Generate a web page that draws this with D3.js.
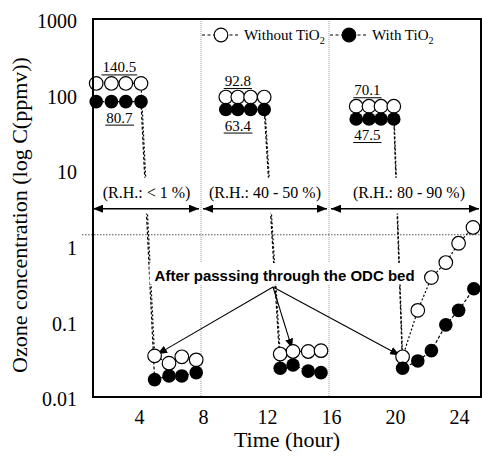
<!DOCTYPE html>
<html>
<head>
<meta charset="utf-8">
<script src="https://cdn.jsdelivr.net/npm/d3@7"></script>
<style>
  body { margin: 0; background: #fff; }
  svg { display: block; }
</style>
</head>
<body>
<svg id="chart"></svg>
<script>
const width = 482
const height = 457

// axis ticks
const xTicks = [4, 8, 12, 16, 20, 24]
const yTicks = [0.01, 0.1, 1, 10, 100, 1000]

// humidity periods (hour boundaries) and their labels
const periodBounds = [1.25, 8, 16, 25.5]
const rhLabels = ["(R.H.: < 1 %)", "(R.H.: 40 - 50 %)", "(R.H.: 80 - 90 %)"]
const rhLabelTime = [4.6, 12, 21]
const rhLevel = 3.1
const refLevel = 1.4

// inlet concentrations written on the chart
const inletWithout = [140.5, 92.8, 70.1]
const inletWith = [80.7, 63.4, 47.5]
const inletLabelTime = [2.9, 10.3, 18.4]

// Without TiO2 series, one array per period
const withoutTime = [
  [1.45, 2.4, 3.3, 4.25, 5.1, 6.0, 6.8, 7.7],
  [9.55, 10.3, 11.1, 11.95, 12.95, 13.75, 14.7, 15.5],
  [17.7, 18.5, 19.25, 20.05, 20.6, 21.55, 22.4, 23.3, 24.1, 25.0]
]
const withoutConc = [
  [140.5, 140.5, 140.5, 140.5, 0.035, 0.028, 0.034, 0.031],
  [92.8, 92.8, 92.8, 92.8, 0.037, 0.040, 0.040, 0.041],
  [70.1, 70.1, 70.1, 70.1, 0.034, 0.14, 0.38, 0.6, 1.08, 1.75]
]

// With TiO2 series
const withTime = [
  [1.45, 2.4, 3.3, 4.25, 5.1, 6.0, 6.8, 7.7],
  [9.55, 10.3, 11.1, 11.95, 12.95, 13.75, 14.7, 15.5],
  [17.7, 18.5, 19.25, 20.05, 20.6, 21.55, 22.4, 23.3, 24.1, 25.05]
]
const withConc = [
  [80.7, 80.7, 80.7, 80.7, 0.017, 0.019, 0.019, 0.021],
  [63.4, 63.4, 63.4, 63.4, 0.024, 0.0265, 0.022, 0.021],
  [47.5, 47.5, 47.5, 47.5, 0.024, 0.030, 0.041, 0.09, 0.14, 0.27]
]

// annotation: text anchor and the points the arrows point at [period, index]
const noteText = "After passsing through the ODC bed"
const noteStartTime = 5.1
const noteApex = [12.5, 0.285]
const noteTargets = [[0, 4], [1, 5], [2, 4]]

const serif = "'Times New Roman', 'Liberation Serif', serif"
const sans = "Arial, 'Liberation Sans', sans-serif"
const r = 6.8

const x = d3.scaleLinear().domain([periodBounds[0], periodBounds[3]]).range([93, 481])
const y = d3.scaleLog().domain([0.01, 1000]).range([397, 19])

const svg = d3.select("#chart")
              .attr("width", width)
              .attr("height", height)

const defs = svg.append("defs")
defs.append("marker")
    .attr("id", "headBig")
    .attr("viewBox", "0 0 10 8")
    .attr("refX", 10).attr("refY", 4)
    .attr("markerUnits", "userSpaceOnUse")
    .attr("markerWidth", 10).attr("markerHeight", 8)
    .attr("orient", "auto-start-reverse")
  .append("path")
    .attr("d", "M0,0L10,4L0,8Z")
    .attr("fill", "#000")
defs.append("marker")
    .attr("id", "headSmall")
    .attr("viewBox", "0 0 10 8")
    .attr("refX", 10).attr("refY", 4)
    .attr("markerUnits", "userSpaceOnUse")
    .attr("markerWidth", 10).attr("markerHeight", 8)
    .attr("orient", "auto")
  .append("path")
    .attr("d", "M0,0L10,4L0,8Z")
    .attr("fill", "#000")

// vertical period separators
svg.selectAll(".grid")
   .data(periodBounds.slice(1, 3))
   .enter().append("line")
   .attr("class", "grid")
   .attr("x1", d => x(d)).attr("x2", d => x(d))
   .attr("y1", y.range()[1]).attr("y2", y.range()[0])
   .attr("stroke", "#999")
   .attr("stroke-width", 1)
   .attr("stroke-dasharray", "1,1")

// reference level
svg.append("line")
   .attr("x1", 82).attr("x2", x.range()[1])
   .attr("y1", y(refLevel)).attr("y2", y(refLevel))
   .attr("stroke", "#555")
   .attr("stroke-width", 1)
   .attr("stroke-dasharray", "1.5,1.5")

// series lines
const line = d3.line().x(d => x(d[0])).y(d => y(d[1]))
const withoutPts = withoutTime.map((ts, g) => ts.map((t, i) => [t, withoutConc[g][i]]))
const withPts = withTime.map((ts, g) => ts.map((t, i) => [t, withConc[g][i]]))

svg.selectAll(".lineWithout")
   .data(withoutPts)
   .enter().append("path")
   .attr("class", "lineWithout")
   .attr("d", line)
   .attr("fill", "none")
   .attr("stroke", "#000")
   .attr("stroke-width", 1.2)
   .attr("stroke-dasharray", "2,2")

svg.selectAll(".lineWith")
   .data(withPts)
   .enter().append("path")
   .attr("class", "lineWith")
   .attr("d", line)
   .attr("fill", "none")
   .attr("stroke", "#000")
   .attr("stroke-width", 1.2)
   .attr("stroke-dasharray", "3,2")

// R.H. labels with white boxes and double arrows
const rhY = y(rhLevel)
rhLabels.forEach((label, i) => {
  const box = svg.append("rect")
  const t = svg.append("text")
               .attr("x", x(rhLabelTime[i]))
               .attr("y", rhY - 11)
               .attr("text-anchor", "middle")
               .attr("font-family", serif)
               .attr("font-size", 16)
               .text(label)
  const bb = t.node().getBBox()
  box.attr("x", bb.x - 3).attr("width", bb.width + 6)
     .attr("y", rhY - 31).attr("height", 36)
     .attr("fill", "#fff")
  svg.append("line")
     .attr("x1", x(periodBounds[i]) + (i === 0 ? 0 : 2))
     .attr("x2", x(periodBounds[i + 1]) - 2)
     .attr("y1", rhY).attr("y2", rhY)
     .attr("stroke", "#000")
     .attr("stroke-width", 1.5)
     .attr("marker-start", "url(#headBig)")
     .attr("marker-end", "url(#headBig)")
})

// annotation text and arrows
const apexX = x(noteApex[0])
const apexY = y(noteApex[1])
const noteBox = svg.append("rect")
const note = svg.append("text")
                .attr("x", x(noteStartTime))
                .attr("y", apexY - 6)
                .attr("font-family", sans)
                .attr("font-weight", "bold")
                .attr("font-size", 15)
                .text(noteText)
const nb = note.node().getBBox()
noteBox.attr("x", nb.x - 5).attr("y", nb.y - 4)
       .attr("width", nb.width + 10).attr("height", nb.height + 4)
       .attr("fill", "#fff")

noteTargets.forEach(([g, i]) => {
  const cx = x(withoutTime[g][i])
  const cy = y(withoutConc[g][i])
  const dx = apexX - cx
  const dy = apexY - cy
  const len = Math.sqrt(dx * dx + dy * dy)
  svg.append("line")
     .attr("x1", apexX).attr("y1", apexY)
     .attr("x2", cx + dx / len * 3).attr("y2", cy + dy / len * 3)
     .attr("stroke", "#000")
     .attr("stroke-width", 1.1)
     .attr("marker-end", "url(#headSmall)")
})

// inlet labels (underlined)
function underlined(tx, ty, str) {
  const t = svg.append("text")
               .attr("x", tx).attr("y", ty)
               .attr("text-anchor", "middle")
               .attr("font-family", serif)
               .attr("font-size", 15)
               .text(str)
  const bb = t.node().getBBox()
  svg.append("line")
     .attr("x1", bb.x - 1).attr("x2", bb.x + bb.width + 1)
     .attr("y1", ty + 2.5).attr("y2", ty + 2.5)
     .attr("stroke", "#000")
     .attr("stroke-width", 1)
}
inletWithout.forEach((v, i) => underlined(x(inletLabelTime[i]), y(v) - 11, v.toFixed(1)))
inletWith.forEach((v, i) => underlined(x(inletLabelTime[i]), y(v) + 21, v.toFixed(1)))

// markers
svg.selectAll(".ptWithout")
   .data(withoutPts.flat())
   .enter().append("circle")
   .attr("class", "ptWithout")
   .attr("cx", d => x(d[0])).attr("cy", d => y(d[1]))
   .attr("r", r)
   .attr("fill", "#fff")
   .attr("stroke", "#000")
   .attr("stroke-width", 1.2)

svg.selectAll(".ptWith")
   .data(withPts.flat())
   .enter().append("circle")
   .attr("class", "ptWith")
   .attr("cx", d => x(d[0])).attr("cy", d => y(d[1]))
   .attr("r", r)
   .attr("fill", "#000")

// legend
const legY = 35
const leg = svg.append("g").attr("font-family", serif).attr("font-size", 15)
const legItems = [
  { x0: 201, fill: "#fff", label: "Without TiO" },
  { x0: 329, fill: "#000", label: "With TiO" }
]
legItems.forEach(it => {
  leg.append("line")
     .attr("x1", it.x0 + 1).attr("x2", it.x0 + 38)
     .attr("y1", legY).attr("y2", legY)
     .attr("stroke", "#000")
     .attr("stroke-width", 1.1)
     .attr("stroke-dasharray", "3,2.5")
  leg.append("circle")
     .attr("cx", it.x0 + 20).attr("cy", legY)
     .attr("r", r)
     .attr("fill", it.fill)
     .attr("stroke", "#000")
     .attr("stroke-width", 1.2)
  const t = leg.append("text")
               .attr("x", it.x0 + 43)
               .attr("y", legY + 5)
  t.append("tspan").text(it.label)
  t.append("tspan").attr("font-size", 10).attr("dy", 4).text("2")
})

// axes
const yAxis = svg.append("g")
                 .attr("transform", "translate(93,0)")
                 .call(d3.axisLeft(y).tickValues(yTicks).tickFormat(d3.format("~g")).tickSize(0).tickPadding(16))
yAxis.select(".domain").remove()
yAxis.selectAll("text")
     .attr("font-family", serif)
     .attr("font-size", 20)
     .attr("fill", "#000")
     .attr("dy", "0.43em")

const xAxis = svg.append("g")
                 .attr("transform", "translate(0,397)")
                 .call(d3.axisBottom(x).tickValues(xTicks).tickSize(0).tickPadding(13))
xAxis.select(".domain").remove()
xAxis.selectAll("text")
     .attr("font-family", serif)
     .attr("font-size", 20)
     .attr("fill", "#000")
     .attr("dx", 2)

// frame
svg.append("rect")
   .attr("x", x.range()[0]).attr("y", y.range()[1])
   .attr("width", x.range()[1] - x.range()[0])
   .attr("height", y.range()[0] - y.range()[1])
   .attr("fill", "none")
   .attr("stroke", "#000")
   .attr("stroke-width", 2)

// axis titles
svg.append("text")
   .attr("x", 287).attr("y", 447)
   .attr("text-anchor", "middle")
   .attr("font-family", serif)
   .attr("font-size", 22)
   .text("Time (hour)")

svg.append("text")
   .attr("transform", "translate(27,215) rotate(-90)")
   .attr("text-anchor", "middle")
   .attr("font-family", serif)
   .attr("font-size", 22)
   .text("Ozone concentration (log C(ppmv))")
</script>
</body>
</html>
